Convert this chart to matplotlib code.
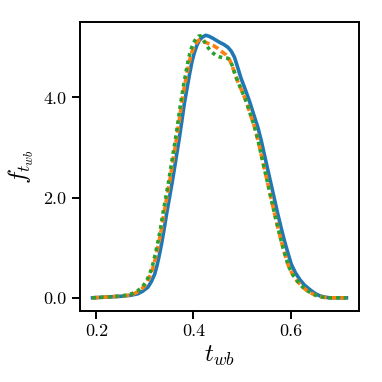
import matplotlib
matplotlib.use("Agg")
import matplotlib.pyplot as plt
from matplotlib.ticker import FormatStrFormatter

plt.rcParams['font.family'] = 'serif'
plt.rcParams['font.serif'] = ['cmr10']
plt.rcParams['mathtext.fontset'] = 'cm'
plt.rcParams['axes.formatter.use_mathtext'] = True

# Series 1 (solid blue)
x_blue = [0.192, 0.21, 0.23, 0.25, 0.27, 0.285, 0.295, 0.306, 0.313, 0.320, 0.325, 0.330,
          0.335, 0.340, 0.345, 0.3505, 0.356, 0.361, 0.366, 0.371, 0.376, 0.381, 0.387,
          0.392, 0.397, 0.402, 0.407, 0.412, 0.418, 0.425, 0.432, 0.44, 0.4536, 0.462,
          0.471, 0.478, 0.4845, 0.491, 0.498, 0.507, 0.5155, 0.524, 0.533, 0.540, 0.546,
          0.553, 0.560, 0.567, 0.574, 0.581, 0.5876, 0.595, 0.6015, 0.61, 0.6186, 0.628,
          0.639, 0.65, 0.66, 0.67, 0.68, 0.70, 0.715]
y_blue = [0.0, 0.01, 0.02, 0.03, 0.05, 0.08, 0.13, 0.21, 0.32, 0.47, 0.65, 0.87,
          1.12, 1.4, 1.7, 2.0, 2.3, 2.6, 2.9, 3.2, 3.53, 3.87, 4.2,
          4.47, 4.72, 4.9, 5.04, 5.14, 5.2, 5.24, 5.22, 5.18, 5.1, 5.06,
          5.0, 4.92, 4.8, 4.6, 4.38, 4.15, 3.92, 3.66, 3.39, 3.12, 2.86,
          2.56, 2.26, 1.96, 1.66, 1.38, 1.13, 0.88, 0.67, 0.5, 0.37, 0.26,
          0.17, 0.09, 0.04, 0.015, 0.0, 0.0, 0.0]

# Series 2 (dashed orange)
x_orange = [0.192, 0.21, 0.23, 0.25, 0.265, 0.277, 0.287, 0.297, 0.305, 0.312, 0.318, 0.3235,
            0.329, 0.3345, 0.3395, 0.345, 0.3505, 0.3555, 0.3605, 0.3655, 0.3705, 0.3755,
            0.381, 0.3865, 0.3915, 0.3965, 0.4015, 0.4065, 0.411, 0.416, 0.4227, 0.432,
            0.44, 0.45, 0.46, 0.467, 0.474, 0.48, 0.486, 0.492, 0.501, 0.5095, 0.518, 0.527,
            0.534, 0.540, 0.547, 0.554, 0.561, 0.568, 0.575, 0.5816, 0.589, 0.5955, 0.604,
            0.6126, 0.622, 0.633, 0.645, 0.656, 0.667, 0.68, 0.70, 0.715]
y_orange = [0.0, 0.01, 0.02, 0.035, 0.05, 0.08, 0.13, 0.21, 0.32, 0.47, 0.65, 0.87,
            1.12, 1.4, 1.7, 2.0, 2.3, 2.6, 2.9, 3.2, 3.53, 3.87,
            4.2, 4.47, 4.72, 4.9, 5.02, 5.1, 5.14, 5.15, 5.11, 5.07,
            5.04, 4.98, 4.9, 4.85, 4.76, 4.62, 4.45, 4.3, 4.1, 3.9, 3.64, 3.37,
            3.1, 2.84, 2.54, 2.24, 1.94, 1.64, 1.36, 1.1, 0.85, 0.64, 0.47,
            0.35, 0.24, 0.15, 0.08, 0.035, 0.012, 0.0, 0.0, 0.0]

# Series 3 (dotted green)
x_green = [0.192, 0.21, 0.23, 0.25, 0.263, 0.275, 0.285, 0.295, 0.303, 0.31, 0.316, 0.3215,
           0.327, 0.3325, 0.3375, 0.343, 0.3485, 0.3535, 0.3585, 0.3635, 0.3685, 0.3735,
           0.379, 0.3845, 0.3895, 0.3945, 0.3995, 0.405, 0.41, 0.414, 0.42, 0.428, 0.4365,
           0.445, 0.4536, 0.462, 0.471, 0.476, 0.481, 0.486, 0.492, 0.501, 0.5095, 0.518,
           0.527, 0.534, 0.540, 0.547, 0.554, 0.561, 0.568, 0.575, 0.5816, 0.589, 0.5955,
           0.604, 0.6126, 0.622, 0.633, 0.645, 0.656, 0.667, 0.68, 0.70, 0.715]
y_green = [0.0, 0.01, 0.02, 0.035, 0.055, 0.09, 0.14, 0.22, 0.33, 0.48, 0.66, 0.88,
           1.13, 1.41, 1.71, 2.01, 2.31, 2.61, 2.91, 3.21, 3.54, 3.88,
           4.21, 4.5, 4.76, 4.95, 5.08, 5.17, 5.22, 5.23, 5.15, 5.02, 4.91,
           4.85, 4.81, 4.79, 4.78, 4.72, 4.61, 4.45, 4.3, 4.1, 3.9, 3.64,
           3.37, 3.1, 2.84, 2.54, 2.24, 1.94, 1.64, 1.36, 1.1, 0.85, 0.64,
           0.47, 0.35, 0.24, 0.15, 0.08, 0.035, 0.012, 0.0, 0.0, 0.0]

x_ticks = [0.2, 0.4, 0.6]
y_ticks = [0.0, 2.0, 4.0]

fig = plt.figure(figsize=(3.82, 3.82), dpi=100)
ax = fig.add_axes([0.209, 0.186, 0.731, 0.756])

ax.plot(x_blue, y_blue, color='#1f77b4', lw=2.6, solid_joinstyle='round', zorder=2)
ax.plot(x_orange, y_orange, color='#ff7f0e', lw=2.6, ls='--', dashes=(1.8, 1.0), zorder=3)
ax.plot(x_green, y_green, color='#2ca02c', lw=2.6, ls=':', dashes=(1.0, 1.1), zorder=4)

ax.set_xticks(x_ticks)
ax.set_yticks(y_ticks)
ax.xaxis.set_major_formatter(FormatStrFormatter('%.1f'))
ax.yaxis.set_major_formatter(FormatStrFormatter('%.1f'))
ax.tick_params(axis='both', length=5.5, width=1.4, labelsize=13, direction='out', pad=4)
for s in ax.spines.values():
    s.set_linewidth(1.4)

ax.set_xlabel(r'$t_{wb}$', fontsize=18, labelpad=3)
ax.set_ylabel(r'$f_{t_{wb}}$', fontsize=18, labelpad=5)

fig.savefig('out.png', dpi=100)
